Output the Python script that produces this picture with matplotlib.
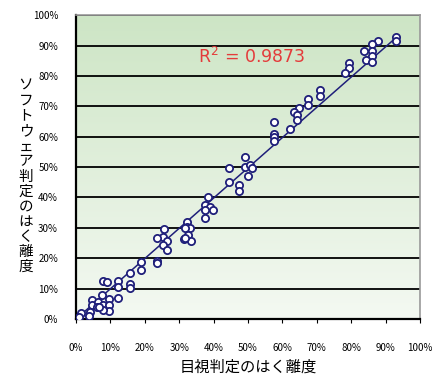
import numpy as np
import matplotlib
matplotlib.use("Agg")
import matplotlib.pyplot as plt
from matplotlib.colors import LinearSegmentedColormap

plt.rcParams['font.family'] = ['Noto Sans CJK JP', 'DejaVu Sans']

# 目視判定 (%) と ソフトウェア判定 (%)
mokushi = [93, 93, 87.8, 86, 83.7, 86, 86, 84.3, 86, 79.4, 79.4, 78.2,
           70.9, 70.9, 67.4, 67.4, 64.8, 63.4, 64.2, 64.2, 57.6, 62.2, 57.6, 57.6, 57.6,
           49.1, 44.5, 49.1, 50.6, 51.2, 50, 44.5, 47.4, 47.4,
           38.4, 37.5, 39, 39.8, 37.5, 37.5,
           32.3, 32.3, 33.1, 31.7, 32.6, 31.4, 33.4, 31.7,
           25.6, 25.3, 26.5, 25.3, 26.5, 23.5, 23.5, 23.5,
           18.9, 18.9, 15.7, 15.7, 15.7, 12.2, 12.2, 12.2, 7.8, 9.0, 7.6,
           4.7, 4.7, 6.4, 7.8, 9.6, 9.6, 9.6, 7.8, 6.1, 4.1, 3.8, 1.5, 0.9, 6.7]
software = [92.8, 91.4, 91.4, 90.5, 88.2, 88.2, 86.5, 85.2, 84.5, 84.2, 82.6, 80.9,
            75.3, 73.4, 72.4, 70.4, 69.4, 68.1, 67.1, 65.5, 64.8, 62.5, 60.9, 59.9, 58.6,
            53.3, 49.7, 50.0, 50.7, 49.7, 47.0, 45.1, 44.1, 42.1,
            40.1, 37.5, 36.8, 35.9, 35.9, 33.2,
            31.9, 30.3, 29.9, 29.9, 27.6, 26.3, 25.7, 26.6,
            29.6, 27.0, 25.7, 24.3, 22.7, 26.6, 19.1, 18.4,
            18.8, 16.1, 15.1, 11.5, 10.2, 12.5, 10.5, 6.9, 12.5, 12.2, 7.9,
            6.2, 4.6, 5.6, 4.6, 6.6, 4.6, 2.6, 3.0, 3.9, 2.3, 1.0, 2.0, 0.7, 3.9]
# 近似直線
slope = 0.995
intercept = 0.0
r2_text = "R$^2$ = 0.9873"
ticks = np.arange(0, 101, 10)
tick_labels = [f"{t}%" for t in ticks]
ylabel = "ソフトウェア判定のはく離度"

x = np.array(mokushi)
y = np.array(software)

fig = plt.figure(figsize=(4.32, 3.78), dpi=100)
ax = fig.add_axes([0.176, 0.156, 0.796, 0.804])

# グラデーション背景
cmap = LinearSegmentedColormap.from_list("bg", ["#f4f9f2", "#cde5c5"])
grad = np.linspace(0, 1, 256).reshape(-1, 1)
ax.imshow(grad, extent=[0, 100, 0, 100], origin="lower", aspect="auto",
          cmap=cmap, zorder=0)

for t in ticks[1:]:
    ax.axhline(t, color="black", lw=1.3, zorder=1)

xx = np.array([x.min(), x.max()])
ax.plot(xx, slope * xx + intercept, color="#1f1f7a", lw=1.1, zorder=2)

ax.plot(x, y, "o", ms=5.2, mfc="white", mec="#1f1f7a", mew=1.3, zorder=3)

ax.text(51, 86.3, r2_text, color="#e43b3b", fontsize=12.5, ha="center", va="center",
        family="DejaVu Sans")

ax.set_xlim(0, 100)
ax.set_ylim(0, 100)
ax.set_xticks(ticks)
ax.set_xticklabels(tick_labels)
ax.set_yticks(ticks)
ax.set_yticklabels(tick_labels)
ax.tick_params(axis="x", direction="out", length=3, pad=14, labelsize=7)
ax.tick_params(axis="y", length=0, pad=13, labelsize=7)

for s in ["left", "bottom"]:
    ax.spines[s].set_color("black")
    ax.spines[s].set_linewidth(1.6)
for s in ["right", "top"]:
    ax.spines[s].set_color("#999999")
    ax.spines[s].set_linewidth(1.2)

ax.set_xlabel("目視判定のはく離度", fontsize=11, labelpad=4)

# 縦書きの軸ラベル (一文字ずつ)
y0 = 1 - 86 / 378
step = 15.1 / 378
for i, ch in enumerate(ylabel):
    fig.text(0.06, y0 - i * step, ch, fontsize=10.5, ha="center", va="center")

plt.savefig("out.png", dpi=100)
